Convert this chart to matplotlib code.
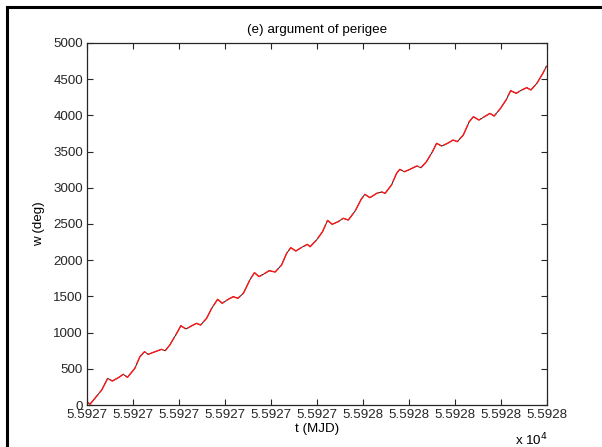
import numpy as np
import matplotlib
matplotlib.use('Agg')
from matplotlib import pyplot as plt
from matplotlib.lines import Line2D

plt.rcParams['font.family'] = ['Liberation Sans', 'DejaVu Sans']

# argument of perigee over one day: time since MJD 55927 (days), degrees (unwrapped)
mjd0 = 55927.0
dt_day = [0.000, 0.0065, 0.032, 0.045, 0.055, 0.068, 0.079, 0.088, 0.104,
          0.115, 0.125, 0.133, 0.148, 0.162, 0.170, 0.180, 0.195, 0.204,
          0.215, 0.228, 0.238, 0.247, 0.260, 0.271, 0.284, 0.294, 0.307,
          0.318, 0.328, 0.340, 0.347, 0.354, 0.364, 0.374, 0.387, 0.396,
          0.409, 0.423, 0.434, 0.443, 0.454, 0.467, 0.479, 0.485, 0.499,
          0.512, 0.523, 0.533, 0.546, 0.557, 0.568, 0.583, 0.596, 0.604,
          0.615, 0.630, 0.641, 0.648, 0.662, 0.673, 0.680, 0.690, 0.702,
          0.717, 0.726, 0.738, 0.751, 0.760, 0.771, 0.784, 0.796, 0.805,
          0.818, 0.831, 0.840, 0.852, 0.864, 0.876, 0.885, 0.899, 0.911,
          0.921, 0.933, 0.945, 0.956, 0.965, 0.978, 0.991, 0.999]
w_deg = [45, 10, 207, 368, 331, 377, 424, 382, 507,
         667, 736, 700, 736, 769, 750, 829, 990, 1095,
         1050, 1095, 1128, 1105, 1197, 1335, 1460, 1405, 1460,
         1496, 1474, 1543, 1635, 1727, 1828, 1773, 1819, 1855,
         1837, 1934, 2095, 2173, 2127, 2178, 2219, 2186, 2279,
         2394, 2550, 2496, 2532, 2579, 2555, 2680, 2841, 2910,
         2864, 2924, 2942, 2924, 3039, 3200, 3255, 3222, 3255,
         3301, 3278, 3361, 3499, 3615, 3577, 3615, 3660, 3637,
         3729, 3913, 3982, 3936, 3982, 4028, 3991, 4098, 4213,
         4342, 4305, 4351, 4383, 4351, 4443, 4581, 4682]
mjd = mjd0 + np.array(dt_day)
w_deg = np.array(w_deg)

xticks = mjd0 + np.arange(0, 1.0001, 0.1)
yticks = np.arange(0, 5001, 500)

fig = plt.figure(figsize=(6.02, 4.47), dpi=100)
ax = fig.add_axes([87/602, 42/447, 460/602, 362/447])

# solution in black, fit drawn over it in red dashes
ax.plot(mjd, w_deg, color='black', lw=0.6)
ax.plot(mjd, w_deg, color='#ff1a1a', lw=1.0, dashes=(12, 1.5))

ax.set_xlim(mjd0, mjd0 + 1.0)
ax.set_ylim(0, 5000)
ax.set_xticks(xticks)
ax.set_xticklabels(['%.4f' % (v / 1e4) for v in xticks])
ax.set_yticks(yticks)
ax.tick_params(direction='in', length=4, width=0.8, top=True, right=True,
               labelsize=9.6, pad=3, colors='#262626')
for sp in ax.spines.values():
    sp.set_color('#262626')
    sp.set_linewidth(0.9)

ax.set_title('(e) argument of perigee', fontsize=9.6, pad=7)
ax.set_xlabel('t (MJD)', fontsize=9.6, labelpad=1)
ax.set_ylabel('w (deg)', fontsize=9.6, labelpad=6)
fig.text(515/602, 1 - 440/447, r'x 10$^4$', fontsize=9.6, va='center')

# window frame
fig.add_artist(Line2D([7/602, 7/602], [0, 1 - 7/447], color='black', lw=2.2,
                      transform=fig.transFigure))
fig.add_artist(Line2D([7/602, 1], [1 - 7/447, 1 - 7/447], color='black', lw=2.2,
                      transform=fig.transFigure))

fig.savefig('out.png', dpi=100)
